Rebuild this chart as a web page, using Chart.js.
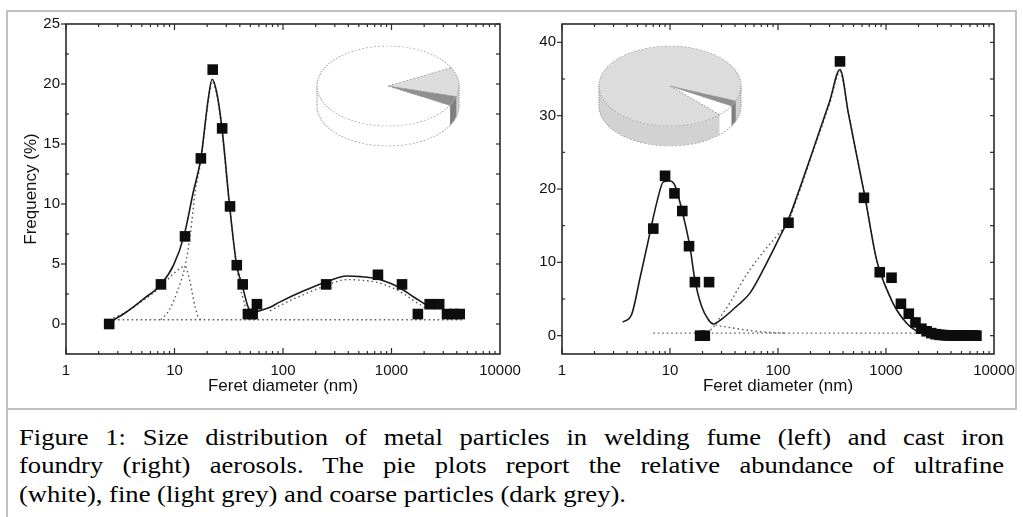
<!DOCTYPE html>
<html><head><meta charset="utf-8">
<script src="https://cdn.jsdelivr.net/npm/chart.js@4.4.1/dist/chart.umd.min.js"></script>
<style>
html,body{margin:0;padding:0;background:#fff;}
body{width:1023px;height:517px;position:relative;overflow:hidden;}
canvas{position:absolute;}
#frame{position:absolute;left:6px;top:10px;width:1007px;height:396px;border:2px solid #c0c0c0;}
#capline{position:absolute;left:6px;top:410px;width:2px;height:107px;background:#c0c0c0;}
#caption{position:absolute;left:19px;top:422.75px;width:985px;font-family:'Liberation Serif','Times New Roman',serif;font-size:26.6px;line-height:34.3px;color:#000;transform:scaleY(0.83);transform-origin:0 0;white-space:nowrap;}
#caption div.j{text-align:justify;text-align-last:justify;white-space:normal;}
</style></head>
<body>
<div id="frame"></div><div id="capline"></div>
<canvas id="cl" width="530" height="395" style="left:8px;top:12px"></canvas>
<canvas id="cr" width="510" height="395" style="left:512px;top:12px"></canvas>
<canvas id="pl" width="160" height="160" style="left:308px;top:6px"></canvas>
<canvas id="pr" width="160" height="160" style="left:590px;top:6px"></canvas>
<div id="caption"><div class="j">Figure 1: Size distribution of metal particles in welding fume (left) and cast iron</div><div class="j">foundry (right) aerosols. The pie plots report the relative abundance of ultrafine</div><div>(white), fine (light grey) and coarse particles (dark grey).</div></div>
<script>
// ---------- tick labels ----------
const xTicks = [1, 10, 100, 1000, 10000];
const leftYTicks = [0, 5, 10, 15, 20, 25];
const rightYTicks = [0, 10, 20, 30, 40];
const xTitle = 'Feret diameter (nm)';
const yTitle = 'Frequency (%)';

// ---------- left: welding fume ----------
const leftBinsX = [2.5, 7.5, 12.5, 17.5, 22.5, 27.5, 32.5, 37.5, 42.5, 47.5, 52.5, 57.5, 250, 750, 1250, 1750, 2250, 2750, 3250, 3750, 4250];
const leftFreq  = [0, 3.3, 7.3, 13.8, 21.2, 16.3, 9.8, 4.9, 3.3, 0.83, 0.83, 1.65, 3.3, 4.1, 3.3, 0.83, 1.65, 1.65, 0.83, 0.83, 0.83];
const leftFitX = [2.5, 3.6, 5.2, 7.5, 9.8, 12.2, 14.9, 17.5, 20.5, 22.2, 24.5, 27.4, 32.3, 37.4, 41.9, 47.3, 51.5, 61, 76, 92, 150, 250, 386, 520, 750, 1000, 1250, 1600, 2050];
const leftFitY = [0.1, 1.0, 2.1, 3.3, 4.9, 7.3, 11, 13.8, 18.8, 20.4, 19.3, 16.3, 9.75, 4.9, 3.3, 1.5, 0.9, 1.1, 1.4, 1.8, 2.7, 3.5, 4.0, 3.95, 3.75, 3.35, 2.9, 2.25, 1.65];
const leftBaseX = [2.5, 4500];
const leftBaseY = [0.35, 0.35];
const leftCompAX = [2.5, 3.6, 5.2, 7.5, 9.8, 12.5, 13.5, 14.5, 15.5, 16.5, 17.5];
const leftCompAY = [0.35, 1.0, 2.0, 3.1, 4.2, 4.8, 4.0, 2.7, 1.4, 0.6, 0.35];
const leftCompBX = [7.5, 9, 10.5, 12.5, 14, 15.5, 17.5, 20.5, 22.2, 24.5, 27.4, 32.3, 37.4, 42, 47, 52, 58];
const leftCompBY = [0.35, 1.2, 2.6, 4.8, 7.5, 11, 13.6, 18.6, 20.2, 19.1, 16.1, 9.6, 4.8, 2.4, 1.0, 0.5, 0.35];
const leftCompCX = [76, 92, 150, 250, 386, 520, 750, 1000, 1250, 1600, 2050];
const leftCompCY = [1.1, 1.5, 2.4, 3.2, 3.7, 3.65, 3.45, 3.05, 2.6, 1.95, 1.35];

// ---------- right: cast iron foundry ----------
const rightBinsX = [7, 9, 11, 13, 15, 17, 19, 21, 23, 125, 375, 625, 875, 1125, 1375, 1625, 1875, 2125, 2375, 2625, 2875, 3125, 3375, 3625, 3875, 4125, 4375, 4625, 4875, 5125, 5375, 5625, 5875, 6125, 6375, 6625, 6875];
const rightFreq  = [14.6, 21.8, 19.4, 17.0, 12.2, 7.3, 0, 0, 7.3, 15.4, 37.4, 18.8, 8.65, 7.9, 4.35, 3.0, 1.8, 0.95, 0.6, 0.35, 0.2, 0.12, 0.08, 0.05, 0.04, 0.03, 0.02, 0.02, 0.01, 0, 0, 0, 0, 0, 0, 0, 0];
const rightFitX = [3.65, 4.4, 5.3, 6.3, 7.5, 8.7, 10, 11.1, 12.8, 15.3, 17, 19.6, 22.6, 25.1, 31, 41.3, 55, 78.5, 104, 125, 149, 212, 300, 375, 450, 530, 639, 820, 1052, 1257, 1555, 1930, 2190];
const rightFitY = [1.86, 2.85, 8, 13, 18, 21, 21.1, 20.5, 17.3, 12.1, 7.6, 4, 2.2, 1.6, 2.4, 4, 5.8, 9.9, 13.5, 15.9, 18.9, 25.4, 31.9, 36.3, 30.2, 24.9, 18.9, 10.3, 5.8, 3.5, 1.7, 0.6, 0.3];
const rightBaseX = [7, 7000];
const rightBaseY = [0.35, 0.35];
const rightCompAX = [22.6, 25.1, 30, 40, 55, 80, 120];
const rightCompAY = [2.2, 1.6, 1.3, 1.0, 0.7, 0.45, 0.35];
const rightCompBX = [22, 25, 30, 36, 45, 55, 72, 100, 125, 149, 212, 300, 375, 450, 530, 639, 820, 1052, 1257, 1555, 1930, 2190];
const rightCompBY = [0.4, 1.1, 2.8, 4.5, 7, 9, 11.3, 13.8, 15.7, 18.6, 25.2, 31.6, 36, 30.2, 24.9, 18.9, 10.3, 5.8, 3.5, 1.7, 0.6, 0.35];

// ---------- pies: ultrafine, fine, coarse ----------
const pieLabels = ['ultrafine', 'fine', 'coarse'];
const leftPie = [84.4, 11.8, 3.8];
const rightPie = [4.4, 93.4, 2.2];

// ---------- helpers ----------
const pts = (xs, ys) => xs.map((x, i) => ({x: x, y: ys[i]}));
Chart.defaults.font.family = "'Liberation Sans', Arial, sans-serif";
Chart.defaults.color = '#111';

const framePlugin = {
  id: 'frame',
  afterDraw(chart, args, opts) {
    const {ctx, chartArea: a, scales: {x, y}} = chart;
    ctx.save();
    ctx.strokeStyle = '#2a2a2a';
    const seg = (x1, y1, x2, y2) => { ctx.beginPath(); ctx.moveTo(x1, y1); ctx.lineTo(x2, y2); ctx.stroke(); };
    ctx.lineWidth = 1.2;
    for (let d = x.min; d < x.max; d *= 10) {
      for (let m = 1; m < 10; m++) {
        const px = x.getPixelForValue(d * m);
        const L = m === 1 ? 6 : 3;
        seg(px, a.bottom, px, a.bottom - L);
        seg(px, a.top, px, a.top + L);
      }
    }
    for (let v = opts.first; v <= y.max + 1e-9; v += opts.minor) {
      const py = y.getPixelForValue(v);
      const r = v / opts.major;
      const major = Math.abs(r - Math.round(r)) < 1e-6;
      if (major) seg(a.left - 5, py, a.left, py); else seg(a.left, py, a.left + 3, py);
      seg(a.right - 4, py, a.right, py);
    }
    ctx.lineWidth = 1.6;
    ctx.strokeRect(a.left, a.top, a.right - a.left, a.bottom - a.top);
    ctx.restore();
  }
};

function lineChart(id, cfg) {
  const sets = [
    {data: pts(cfg.binsX, cfg.freq), showLine: false, pointStyle: 'rect', pointRadius: 7.5, pointBackgroundColor: '#0d0d0d', pointBorderWidth: 0},
    {data: pts(cfg.fitX, cfg.fitY), borderColor: '#1a1a1a', borderWidth: 1.6, pointRadius: 0, cubicInterpolationMode: 'monotone'}
  ];
  cfg.dotted.forEach(dd => sets.push({data: pts(dd[0], dd[1]), borderColor: '#555', borderWidth: 1.4, borderDash: [1.5, 3], pointRadius: 0, cubicInterpolationMode: 'monotone'}));
  return new Chart(document.getElementById(id), {
    type: 'line',
    data: {datasets: sets},
    options: {
      responsive: false, animation: false, events: [],
      layout: {padding: {left: 0, top: 12, right: cfg.padRight, bottom: 0}},
      plugins: {legend: {display: false}, tooltip: {enabled: false}, frame: {first: 0, minor: cfg.minor, major: cfg.major}},
      scales: {
        x: {
          type: 'logarithmic', min: 1, max: 10000,
          afterBuildTicks: s => { s.ticks = xTicks.map(v => ({value: v})); },
          afterFit: s => { s.height = 53; s.paddingLeft = 0; s.paddingRight = 0; },
          grid: {display: false, drawTicks: false}, border: {display: false},
          ticks: {padding: 8, maxRotation: 0, autoSkip: false, color: '#111', font: {size: 15}, callback: v => String(v)},
          title: {display: true, text: xTitle, color: '#111', font: {size: 17}, padding: {top: 0, bottom: 10}}
        },
        y: {
          min: -2.5, max: cfg.ymax,
          afterBuildTicks: s => { s.ticks = cfg.yTicks.map(v => ({value: v})); },
          afterFit: s => { s.width = cfg.yWidth; s.paddingTop = 0; s.paddingBottom = 0; },
          grid: {display: false, drawTicks: false}, border: {display: false},
          ticks: {padding: 6, color: '#111', font: {size: 15}},
          title: {display: cfg.showYTitle, text: yTitle, color: '#111', font: {size: 17}, padding: {top: 13, bottom: 0}}
        }
      }
    },
    plugins: [framePlugin]
  });
}

lineChart('cl', {
  binsX: leftBinsX, freq: leftFreq, fitX: leftFitX, fitY: leftFitY,
  dotted: [[leftBaseX, leftBaseY], [leftCompAX, leftCompAY], [leftCompBX, leftCompBY], [leftCompCX, leftCompCY]],
  padRight: 38, yWidth: 58, ymax: 25, yTicks: leftYTicks, minor: 2.5, major: 5, showYTitle: true
});
lineChart('cr', {
  binsX: rightBinsX, freq: rightFreq, fitX: rightFitX, fitY: rightFitY,
  dotted: [[rightBaseX, rightBaseY], [rightCompAX, rightCompAY], [rightCompBX, rightCompBY]],
  padRight: 28, yWidth: 50, ymax: 42.5, yTicks: rightYTicks, minor: 5, major: 10, showYTitle: false
});

// ---------- 3D pies ----------
const pieTop = ['#ffffff', '#dcdcdc', '#8f8f8f'];
const pieSide = ['#ffffff', '#d2d2d2', '#7f7f7f'];
const pie3d = {
  id: 'pie3d',
  beforeDatasetsDraw(chart, args, opts) {
    const ctx = chart.ctx;
    const meta = chart.getDatasetMeta(0);
    const a0 = meta.data[0];
    const cx = a0.x, cy = a0.y, r = a0.outerRadius;
    const k = opts.k, D = opts.depth / k;
    ctx.save();
    ctx.translate(cx, cy); ctx.scale(1, k); ctx.translate(-cx, -cy);
    meta.data.forEach((arc, i) => {
      const s = arc.startAngle, e = arc.endAngle;
      for (let n = -2; n <= 2; n++) {
        const lo = Math.max(s, 2 * Math.PI * n), hi = Math.min(e, 2 * Math.PI * n + Math.PI);
        if (lo < hi) {
          ctx.beginPath();
          ctx.arc(cx, cy, r, lo, hi);
          ctx.arc(cx, cy + D, r, hi, lo, true);
          ctx.closePath();
          ctx.fillStyle = pieSide[i];
          ctx.fill();
        }
      }
    });
    ctx.setLineDash([2, 2]);
    ctx.strokeStyle = '#9a9a9a';
    ctx.lineWidth = 1.2;
    ctx.beginPath(); ctx.arc(cx, cy + D, r, 0, Math.PI); ctx.stroke();
    ctx.beginPath(); ctx.moveTo(cx + r, cy); ctx.lineTo(cx + r, cy + D); ctx.moveTo(cx - r, cy); ctx.lineTo(cx - r, cy + D); ctx.stroke();
    ctx.setLineDash([]);
  },
  afterDatasetsDraw(chart) { chart.ctx.restore(); }
};
function pieChart(id, values, rot) {
  return new Chart(document.getElementById(id), {
    type: 'pie',
    data: {labels: pieLabels, datasets: [{data: values, backgroundColor: pieTop, borderColor: '#a0a0a0', borderWidth: 1.2, borderDash: [2, 2]}]},
    options: {
      responsive: false, animation: false, events: [], rotation: rot, radius: 71,
      layout: {padding: 0},
      plugins: {legend: {display: false}, tooltip: {enabled: false}, pie3d: {k: 40 / 71, depth: 20}}
    },
    plugins: [pie3d]
  });
}
pieChart('pl', leftPie, 119);
pieChart('pr', rightPie, 120);
</script>
</body></html>
